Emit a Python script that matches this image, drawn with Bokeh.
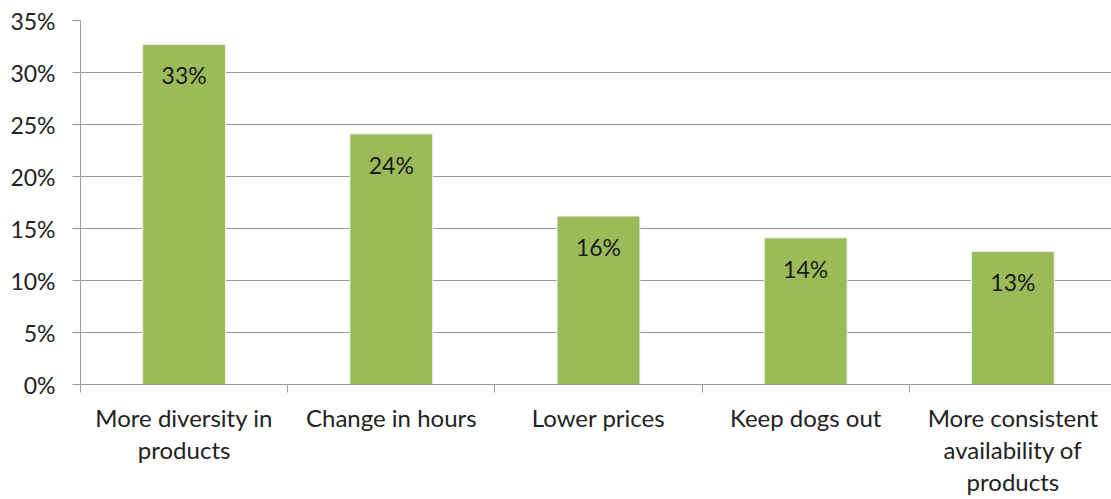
from bokeh.plotting import figure
from bokeh.models import ColumnDataSource, Range1d, FixedTicker, NumeralTickFormatter
from bokeh.core.properties import value
from bokeh.embed import file_html
from bokeh.resources import INLINE

categories = ["More diversity in\nproducts", "Change in hours", "Lower prices",
              "Keep dogs out", "More consistent\navailability of\nproducts"]
shares = [0.327, 0.241, 0.162, 0.141, 0.128]
share_labels = ["33%", "24%", "16%", "14%", "13%"]
y_ticks = [0.0, 0.05, 0.10, 0.15, 0.20, 0.25, 0.30, 0.35]

xs = [i + 0.5 for i in range(len(categories))]
src = ColumnDataSource(dict(x=xs, top=shares, lab=share_labels))

FONT = "Lato"
p = figure(width=1111, height=499, output_backend="svg", toolbar_location=None,
           x_range=Range1d(0, 4.976), y_range=Range1d(0, 0.35),
           min_border_left=80, min_border_top=20, min_border_bottom=115, min_border_right=0)
p.outline_line_color = None
p.background_fill_color = "white"

p.vbar(x="x", top="top", width=0.4, source=src, fill_color="#9BBB59",
       line_color="#f2f2f2", line_width=1)
p.text(x="x", y="top", text="lab", source=src, text_align="center", text_baseline="top",
       y_offset=17, text_font=value(FONT), text_font_size="23px", text_color="#1a1a1a")

p.xgrid.grid_line_color = None
p.ygrid.grid_line_color = "#9a9a9a"
p.ygrid.grid_line_width = 1
p.ygrid.ticker = FixedTicker(ticks=y_ticks)

p.yaxis.ticker = FixedTicker(ticks=y_ticks)
p.yaxis.formatter = NumeralTickFormatter(format="0%")
p.yaxis.axis_line_color = "#9a9a9a"
p.yaxis.major_tick_line_color = "#9a9a9a"
p.yaxis.major_tick_out = 8
p.yaxis.major_tick_in = 0
p.yaxis.minor_tick_line_color = None
p.yaxis.major_label_standoff = 17
p.yaxis.major_label_text_font = FONT
p.yaxis.major_label_text_font_size = "23px"
p.yaxis.major_label_text_color = "#222222"

p.xaxis.ticker = FixedTicker(ticks=xs, minor_ticks=[0, 1, 2, 3, 4, 5])
p.xaxis.major_label_overrides = {x: c for x, c in zip(xs, categories)}
p.xaxis.axis_line_color = "#9a9a9a"
p.xaxis.major_tick_line_color = None
p.xaxis.minor_tick_line_color = "#9a9a9a"
p.xaxis.minor_tick_out = 8
p.xaxis.minor_tick_in = 0
p.xaxis.major_label_standoff = 10
p.xaxis.major_label_text_font = FONT
p.xaxis.major_label_text_font_size = "24px"
p.xaxis.major_label_text_color = "#222222"
p.xaxis.major_label_text_line_height = 1.12

open("out.html", "w").write(file_html(p, INLINE))
